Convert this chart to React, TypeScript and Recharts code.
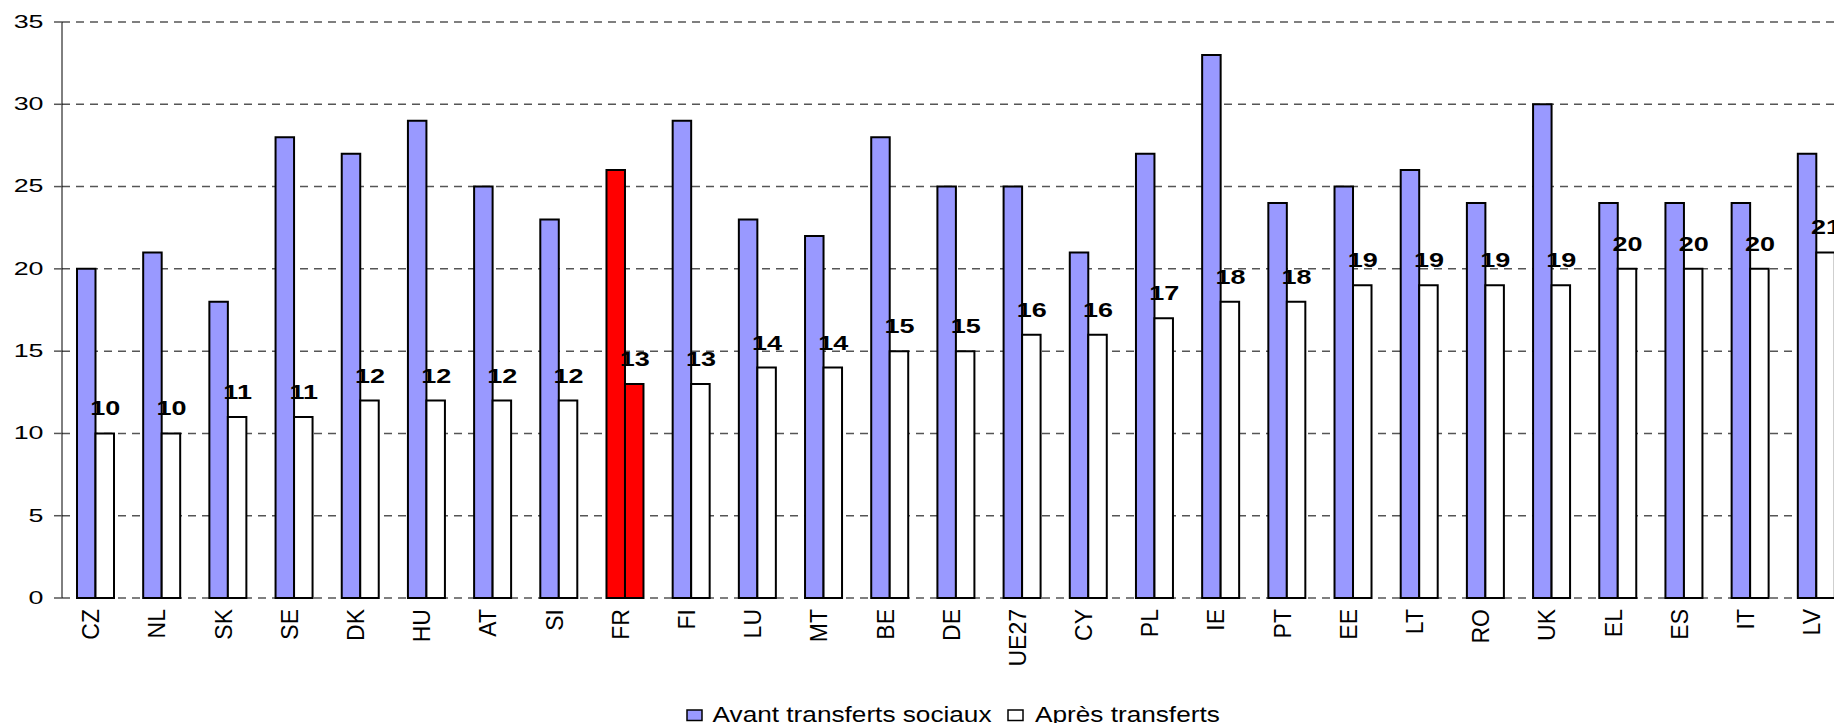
import { BarChart, Bar, XAxis, YAxis, CartesianGrid, Cell, LabelList } from 'recharts';

const countries = ['CZ', 'NL', 'SK', 'SE', 'DK', 'HU', 'AT', 'SI', 'FR', 'FI', 'LU', 'MT', 'BE', 'DE', 'UE27', 'CY', 'PL', 'IE', 'PT', 'EE', 'LT', 'RO', 'UK', 'EL', 'ES', 'IT', 'LV'];
const avantTransferts = [20, 21, 18, 28, 27, 29, 25, 23, 26, 29, 23, 22, 28, 25, 25, 21, 27, 33, 24, 25, 26, 24, 30, 24, 24, 24, 27];
const apresTransferts = [10, 10, 11, 11, 12, 12, 12, 12, 13, 13, 14, 14, 15, 15, 16, 16, 17, 18, 18, 19, 19, 19, 19, 20, 20, 20, 21];
const yTicks = [0, 5, 10, 15, 20, 25, 30, 35];
const highlighted = 'FR';

const data = countries.map((code, i) => ({
  code,
  avant: avantTransferts[i],
  apres: apresTransferts[i],
}));

const FONT = "'Liberation Sans', Arial, sans-serif";
const BLUE = '#9999FF';
const RED = '#FF0000';

function YTick(props: any) {
  const { x, y, payload } = props;
  return (
    <text
      transform={`translate(${x - 8.5},${y + 5.8}) scale(1.45,1)`}
      textAnchor="end"
      fontSize={18.5}
      fontFamily={FONT}
      fill="#000"
    >
      {payload.value}
    </text>
  );
}

function XTick(props: any) {
  const { x, y, payload } = props;
  const bx = x + 4.2;
  const by = y + 11;
  return (
    <text
      x={bx}
      y={by}
      transform={`rotate(-90,${bx},${by})`}
      textAnchor="end"
      fontSize={23}
      fontFamily={FONT}
      fill="#000"
    >
      {payload.value}
    </text>
  );
}

function ValueLabel(props: any) {
  const vb = props.viewBox || {};
  const x = vb.x ?? props.x;
  const y = vb.y ?? props.y;
  const w = vb.width ?? props.width;
  const cx = x + w / 2 + 0.5;
  return (
    <text
      transform={`translate(${cx},${y - 18}) scale(1.35,1)`}
      textAnchor="middle"
      fontSize={20}
      fontWeight="bold"
      fontFamily={FONT}
      fill="#000"
    >
      {props.value}
    </text>
  );
}

export default function App() {
  return (
    <div
      style={{
        position: 'absolute',
        left: 0,
        top: 0,
        width: 1834,
        height: 723,
        overflow: 'hidden',
        background: '#fff',
        fontFamily: FONT,
      }}
    >
      <BarChart
        width={1860}
        height={723}
        data={data}
        margin={{ top: 22, right: 11, bottom: 0, left: 0 }}
        barSize={18.5}
        barGap={0}
      >
        <CartesianGrid vertical={false} stroke="#555" strokeDasharray="8 6" strokeWidth={1.5} />
        <XAxis
          dataKey="code"
          interval={0}
          axisLine={false}
          tickLine={false}
          tickSize={0}
          tickMargin={0}
          height={125}
          tick={(p: any) => <XTick {...p} />}
        />
        <YAxis
          domain={[0, 35]}
          ticks={yTicks}
          interval={0}
          width={62}
          axisLine={{ stroke: '#000', strokeWidth: 1 }}
          tickLine={{ stroke: '#555', strokeWidth: 1.5 }}
          tickSize={8}
          tick={(p: any) => <YTick {...p} />}
        />
        <Bar dataKey="avant" stroke="#000" strokeWidth={2} isAnimationActive={false}>
          {data.map((d) => (
            <Cell key={d.code} fill={d.code === highlighted ? RED : BLUE} />
          ))}
        </Bar>
        <Bar dataKey="apres" stroke="#000" strokeWidth={2} isAnimationActive={false}>
          {data.map((d) => (
            <Cell key={d.code} fill={d.code === highlighted ? RED : '#FFFFFF'} />
          ))}
          <LabelList dataKey="apres" content={(p: any) => <ValueLabel {...p} />} />
        </Bar>
      </BarChart>

      {/* legend and source line, cut by the bottom edge like in the original */}
      <svg
        width={1834}
        height={723}
        style={{ position: 'absolute', left: 0, top: 0, pointerEvents: 'none' }}
      >
        <rect x={687} y={710} width={15} height={10.5} fill={BLUE} stroke="#000" strokeWidth={1.5} />
        <text transform="translate(712.6,722) scale(1.23,1)" fontSize={21.3} fontFamily={FONT} fill="#000">
          Avant transferts sociaux
        </text>
        <rect x={1008} y={710} width={15} height={10.5} fill="#fff" stroke="#000" strokeWidth={1.5} />
        <text transform="translate(1035,722) scale(1.23,1)" fontSize={21.3} fontFamily={FONT} fill="#000">
          Après transferts
        </text>
        <text transform="translate(38,737) scale(1.33,1)" fontSize={21} fontFamily={FONT} fill="#000">
          Source : Eurostat
        </text>
      </svg>
    </div>
  );
}
